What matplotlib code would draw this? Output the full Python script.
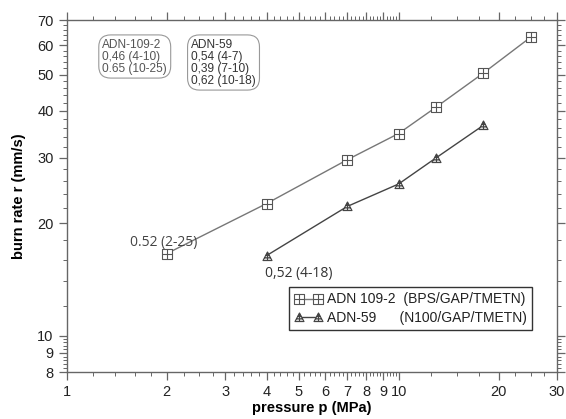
import numpy as np
import matplotlib.pyplot as plt
from matplotlib.path import Path
from matplotlib.ticker import FixedLocator, NullFormatter

plt.rcParams['font.family'] = ['Liberation Sans', 'DejaVu Sans']

# burn rate data: pressure (MPa) vs burn rate (mm/s)
p_adn109 = [2, 4, 7, 10, 13, 18, 25]
r_adn109 = [16.6, 22.6, 29.6, 34.8, 41.0, 50.5, 63.0]
p_adn59 = [4, 7, 10, 13, 18]
r_adn59 = [16.4, 22.2, 25.5, 30.0, 36.6]

x_ticks = [1, 2, 3, 4, 5, 6, 7, 8, 9, 10, 20, 30]
x_labels = ['1', '2', '3', '4', '5', '6', '7', '8', '9', '10', '20', '30']
y_ticks = [8, 9, 10, 20, 30, 40, 50, 60, 70]

# square with a cross inside
sq_verts = [(-1, -1), (1, -1), (1, 1), (-1, 1), (-1, -1),
            (0, -1), (0, 1), (-1, 0), (1, 0)]
sq_codes = [Path.MOVETO, Path.LINETO, Path.LINETO, Path.LINETO, Path.CLOSEPOLY,
            Path.MOVETO, Path.LINETO, Path.MOVETO, Path.LINETO]
sq_marker = Path(sq_verts, sq_codes)

# triangle with hatching lines
tr_verts = [(-1, -0.9), (1, -0.9), (0, 1), (-1, -0.9),
            (-0.68, -0.3), (0.68, -0.3), (-0.37, 0.3), (0.37, 0.3),
            (0, 1), (0, -0.9)]
tr_codes = [Path.MOVETO, Path.LINETO, Path.LINETO, Path.CLOSEPOLY,
            Path.MOVETO, Path.LINETO, Path.MOVETO, Path.LINETO,
            Path.MOVETO, Path.LINETO]
tr_marker = Path(tr_verts, tr_codes)

fig = plt.figure(figsize=(5.66, 4.19), dpi=100)
ax = fig.add_axes([0.118, 0.112, 0.866, 0.84])

ax.plot(p_adn109, r_adn109, color='#777777', lw=1.0, marker=sq_marker,
        ms=6.5, mfc='white', mec='#555555', mew=0.8,
        label='ADN 109-2  (BPS/GAP/TMETN)')
ax.plot(p_adn59, r_adn59, color='#444444', lw=1.0, marker=tr_marker,
        ms=6.5, mfc='#d8d8d8', mec='#444444', mew=0.8,
        label='ADN-59      (N100/GAP/TMETN)')

ax.set_xscale('log')
ax.set_yscale('log')
ax.set_xlim(1, 30)
ax.set_ylim(8, 70)

ax.xaxis.set_major_locator(FixedLocator(x_ticks))
ax.set_xticklabels(x_labels)
ax.yaxis.set_major_locator(FixedLocator(y_ticks))
ax.set_yticklabels([str(v) for v in y_ticks])

x_minor = np.concatenate([np.arange(1.2, 2, 0.2), np.arange(2.25, 3, 0.25),
                          np.arange(3.2, 10, 0.2), np.arange(12.5, 30, 2.5)])
y_minor = np.concatenate([np.arange(8.2, 10, 0.2), np.arange(12, 70, 2)])
ax.xaxis.set_minor_locator(FixedLocator(x_minor))
ax.yaxis.set_minor_locator(FixedLocator(y_minor))
ax.xaxis.set_minor_formatter(NullFormatter())
ax.yaxis.set_minor_formatter(NullFormatter())

ax.tick_params(which='both', direction='out', top=True, right=True,
               color='#666666', labelsize=10.5, labelcolor='#222222')
ax.tick_params(which='major', length=6, width=0.9)
ax.tick_params(which='minor', length=3, width=0.7)
for s in ax.spines.values():
    s.set_color('#666666')
    s.set_linewidth(1.0)

ax.set_xlabel('pressure p (MPa)', fontweight='bold', fontsize=10.5, labelpad=1)
ax.set_ylabel('burn rate r (mm/s)', fontweight='bold', fontsize=10.5, labelpad=8)

# pressure exponents
ax.text(1.55, 17.0, '0.52 (2-25)', fontsize=10, color='#444444',
        family=['Open Sans', 'DejaVu Sans'], va='bottom')
ax.text(3.95, 15.4, '0,52 (4-18)', fontsize=10, color='#333333',
        family=['Open Sans', 'DejaVu Sans'], va='top')

box = dict(boxstyle='round,pad=0.3,rounding_size=1.0', fc='white',
           ec='#999999', lw=0.8)
ax.text(1.28, 62.5, 'ADN-109-2\n0,46 (4-10)\n0.65 (10-25)', fontsize=8.6,
        color='#555555', va='top', linespacing=1.0, bbox=box)
ax.text(2.37, 62.5, 'ADN-59\n0,54 (4-7)\n0,39 (7-10)\n0,62 (10-18)', fontsize=8.6,
        color='#333333', va='top', linespacing=1.0, bbox=box)

leg = ax.legend(loc='lower right', bbox_to_anchor=(0.949, 0.119), borderaxespad=0,
                fontsize=10, numpoints=2, handlelength=2.0, handletextpad=0.3,
                fancybox=False, edgecolor='#333333', framealpha=1,
                borderpad=0.4, labelspacing=0.3)
leg.get_frame().set_linewidth(1.0)
for t in leg.get_texts():
    t.set_color('#222222')

fig.savefig('out.png', dpi=100)
